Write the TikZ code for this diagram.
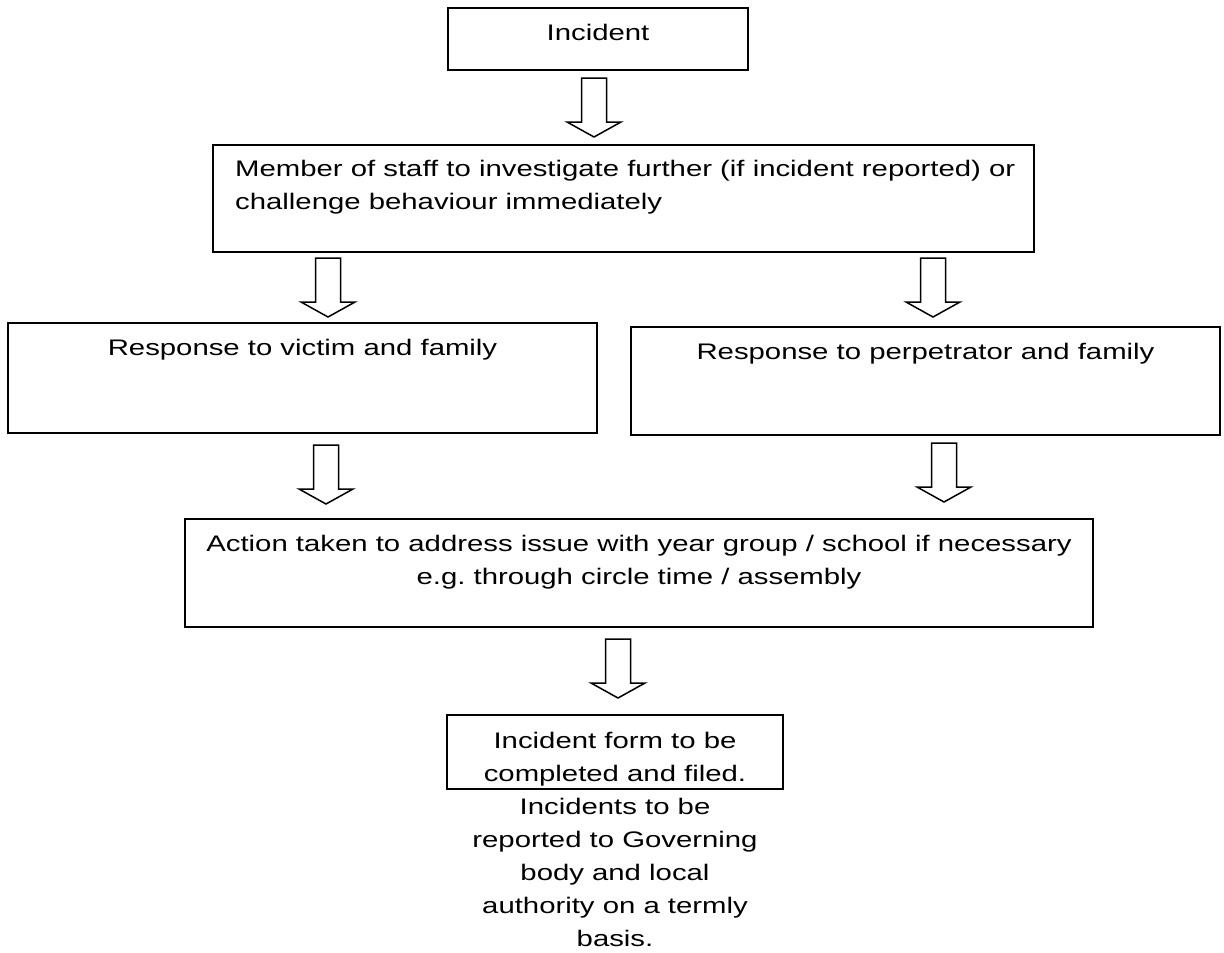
\documentclass[tikz,border=0pt]{standalone}
\usepackage{fontspec}
\setmainfont[FakeStretch=1.303]{Liberation Sans}
\frenchspacing
\begin{document}
\begin{tikzpicture}[x=1pt,y=-1pt,
  box/.style={draw, line width=1.8pt, inner sep=0pt},
  txt/.style={inner sep=0pt, font=\fontsize{22.5}{33}\selectfont, align=center, anchor=north},
  darrow/.pic={\draw[line width=1.5pt, line join=miter, fill=white]
     (-12.5,0) -- (12.5,0) -- (12.5,44) -- (27,44) -- (0,59) -- (-27,44) -- (-12.5,44) -- cycle;}
]
\useasboundingbox (0,0) rectangle (1224,953);
% boxes
\node[box, minimum width=300pt, minimum height=62pt] (inc) at (598,39) {};
\node[box, minimum width=821pt, minimum height=107pt] (staff) at (623.5,198.5) {};
\node[box, minimum width=589pt, minimum height=110pt] (victim) at (302.5,378) {};
\node[box, minimum width=589pt, minimum height=108pt] (perp) at (925.5,381) {};
\node[box, minimum width=908pt, minimum height=108pt] (action) at (639,573) {};
\node[box, minimum width=336pt, minimum height=74pt] (form) at (615,752) {};
% texts
\node[txt] (tinc) at ([yshift=-17pt]inc.north) {Incident};
\node[txt, align=left, anchor=north west] (tstaff) at ([yshift=-16pt]staff.north west -| 235,0) {Member of staff to investigate further (if incident reported) or\\challenge behaviour immediately};
\node[txt] (tvictim) at ([yshift=-17pt]victim.north) {Response to victim and family};
\node[txt] (tperp) at ([yshift=-17pt]perp.north) {Response to perpetrator and family};
\node[txt] (taction) at ([yshift=-17pt]action.north) {Action taken to address issue with year group / school if necessary\\e.g. through circle time / assembly};
\node[txt] (tform) at ([yshift=-18pt]form.north) {Incident form to be\\completed and filed.\\Incidents to be\\reported to Governing\\body and local\\authority on a termly\\basis.};
% block arrows
\pic at (594,78) {darrow};
\pic at (328,258) {darrow};
\pic at (933,258) {darrow};
\pic at (326,445) {darrow};
\pic at (944,443) {darrow};
\pic at (618,639) {darrow};
\end{tikzpicture}
\end{document}
